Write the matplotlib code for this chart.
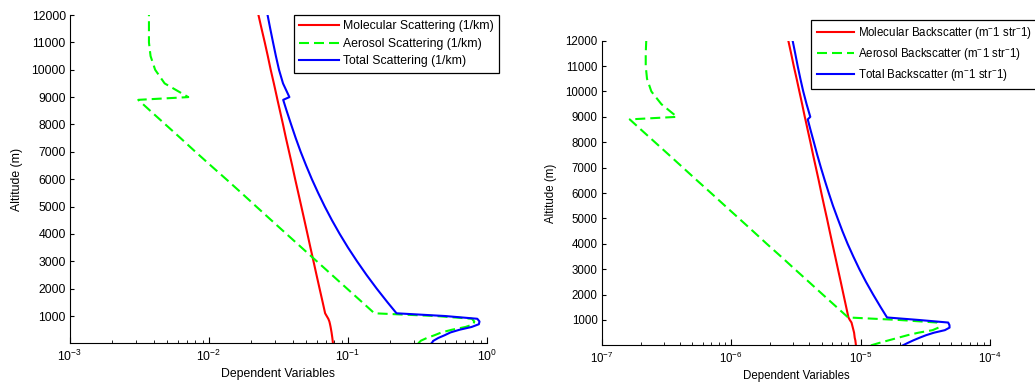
# Scattering / backscatter profiles vs altitude (molecular, aerosol, total)

import numpy as np
from matplotlib import pyplot as plt

plt.rcParams['font.family'] = ['Liberation Sans', 'DejaVu Sans']
plt.rcParams['mathtext.default'] = 'regular'

altitude = [0, 100, 200, 300, 400, 500, 600, 700, 800, 900, 1000, 1100,
            1500, 2000, 2500, 3000, 3500, 4000, 4500, 5000, 5500, 6000,
            6500, 7000, 7500, 8000, 8500, 8900, 9000, 9500, 10000, 10500,
            11000, 11500, 12000]

# extinction, 1/km
mol_scat = [0.078, 0.0776, 0.0772, 0.0767, 0.0762, 0.0756, 0.075, 0.0743, 0.0735, 0.0722, 0.0703, 0.0685,
            0.0658, 0.0625, 0.0594, 0.0565, 0.0537, 0.0511, 0.0486, 0.0462, 0.0439, 0.0417,
            0.0397, 0.0377, 0.0358, 0.0341, 0.0324, 0.0311, 0.0308, 0.0293, 0.0278, 0.0265,
            0.0252, 0.0239, 0.0227]
aer_scat = [0.32, 0.335, 0.37, 0.42, 0.47, 0.56, 0.70, 0.80, 0.81, 0.78, 0.43, 0.155,
            0.1268, 0.0986, 0.0767, 0.0597, 0.0464, 0.0361, 0.0281, 0.0219, 0.0171, 0.0133,
            0.0103, 0.0080, 0.00625, 0.00486, 0.00378, 0.0031, 0.0071, 0.0048, 0.0041, 0.0038,
            0.0037, 0.0037, 0.0037]
tot_scat = [0.398, 0.413, 0.447, 0.497, 0.546, 0.636, 0.775, 0.874, 0.884, 0.852, 0.500, 0.2235,
            0.1926, 0.1611, 0.1361, 0.1162, 0.1001, 0.0872, 0.0767, 0.0681, 0.0610, 0.0550,
            0.0500, 0.0457, 0.0421, 0.0390, 0.0362, 0.0342, 0.0379, 0.0341, 0.0319, 0.0303,
            0.0289, 0.0276, 0.0264]

# backscatter, 1/(m sr)
mol_back = [9.2e-6, 9.15e-6, 9.1e-6, 9.0e-6, 8.95e-6, 8.9e-6, 8.8e-6, 8.7e-6, 8.6e-6, 8.5e-6, 8.25e-6, 8.05e-6,
            7.74e-6, 7.37e-6, 7.02e-6, 6.68e-6, 6.36e-6, 6.05e-6, 5.76e-6, 5.49e-6, 5.22e-6, 4.97e-6,
            4.74e-6, 4.51e-6, 4.29e-6, 4.09e-6, 3.89e-6, 3.74e-6, 3.70e-6, 3.53e-6, 3.36e-6, 3.20e-6,
            3.04e-6, 2.90e-6, 2.76e-6]
aer_back = [1.2e-5, 1.4e-5, 1.65e-5, 1.95e-5, 2.3e-5, 2.8e-5, 3.6e-5, 4.0e-5, 4.0e-5, 3.9e-5, 2.0e-5, 8.0e-6,
            6.55e-6, 5.1e-6, 3.98e-6, 3.1e-6, 2.42e-6, 1.88e-6, 1.47e-6, 1.146e-6, 8.93e-7, 6.97e-7,
            5.42e-7, 4.23e-7, 3.3e-7, 2.57e-7, 2.0e-7, 1.64e-7, 3.8e-7, 2.88e-7, 2.41e-7, 2.23e-7,
            2.18e-7, 2.18e-7, 2.2e-7]
tot_back = [2.12e-5, 2.32e-5, 2.56e-5, 2.85e-5, 3.2e-5, 3.69e-5, 4.48e-5, 4.87e-5, 4.86e-5, 4.75e-5, 2.83e-5, 1.6e-5,
            1.43e-5, 1.25e-5, 1.1e-5, 9.78e-6, 8.78e-6, 7.93e-6, 7.23e-6, 6.64e-6, 6.11e-6, 5.67e-6,
            5.28e-6, 4.93e-6, 4.62e-6, 4.35e-6, 4.09e-6, 3.90e-6, 4.08e-6, 3.82e-6, 3.60e-6, 3.42e-6,
            3.26e-6, 3.12e-6, 2.98e-6]

scat_labels = ["Molecular Scattering (1/km)", "Aerosol Scattering (1/km)", "Total Scattering (1/km)"]
back_labels = ["Molecular Backscatter (m$^{-}$1 str$^{-}$1)",
               "Aerosol Backscatter (m$^{-}$1 str$^{-}$1)",
               "Total Backscatter (m$^{-}$1 str$^{-}$1)"]


def profilePlot(ax, mol, aer, tot, labels, xlim, legend_pos, fs):
    ax.semilogx(mol, altitude, "-", color=(1, 0, 0), lw=1.5, label=labels[0])
    ax.semilogx(aer, altitude, "--", color=(0, 1, 0), lw=1.5, dashes=(4.8, 2.4), label=labels[1])
    ax.semilogx(tot, altitude, "-", color=(0, 0, 1), lw=1.5, label=labels[2])

    ax.set_xlim(xlim)
    ax.set_ylim(0, 12000)
    ax.set_yticks(np.arange(1000, 12001, 1000))
    ax.set_xlabel("Dependent Variables", labelpad=3, fontsize=fs)
    ax.set_ylabel("Altitude (m)", labelpad=6, fontsize=fs)

    for side in ["top", "right"]:
        ax.spines[side].set_visible(False)
    for side in ["left", "bottom"]:
        ax.spines[side].set_linewidth(0.8)
    ax.tick_params(axis="x", which="major", direction="in", length=4, width=0.8, pad=4, labelsize=fs)
    ax.tick_params(axis="x", which="minor", direction="in", length=2.4, width=0.6)
    ax.tick_params(axis="y", direction="in", length=3, width=0.8, pad=3, labelsize=fs)

    leg = ax.legend(loc="upper left", bbox_to_anchor=legend_pos, bbox_transform=fig.transFigure,
                    fancybox=False, framealpha=1, edgecolor="black", borderaxespad=0, fontsize=fs,
                    handlelength=3.2, handletextpad=0.35, labelspacing=0.45, borderpad=0.45)
    leg.get_frame().set_linewidth(0.9)
    return ax


fig = plt.figure(figsize=(10.35, 3.83), dpi=100)
ax1 = fig.add_axes([0.0676, 0.1034, 0.4029, 0.8574])
ax2 = fig.add_axes([0.5816, 0.0982, 0.3749, 0.7956])

profilePlot(ax1, mol_scat, aer_scat, tot_scat, scat_labels, (1e-3, 1), (0.284, 0.961), 8.8)
profilePlot(ax2, mol_back, aer_back, tot_back, back_labels, (1e-7, 1e-4), (0.784, 0.948), 8.3)

fig.savefig("out.png", dpi=100)
